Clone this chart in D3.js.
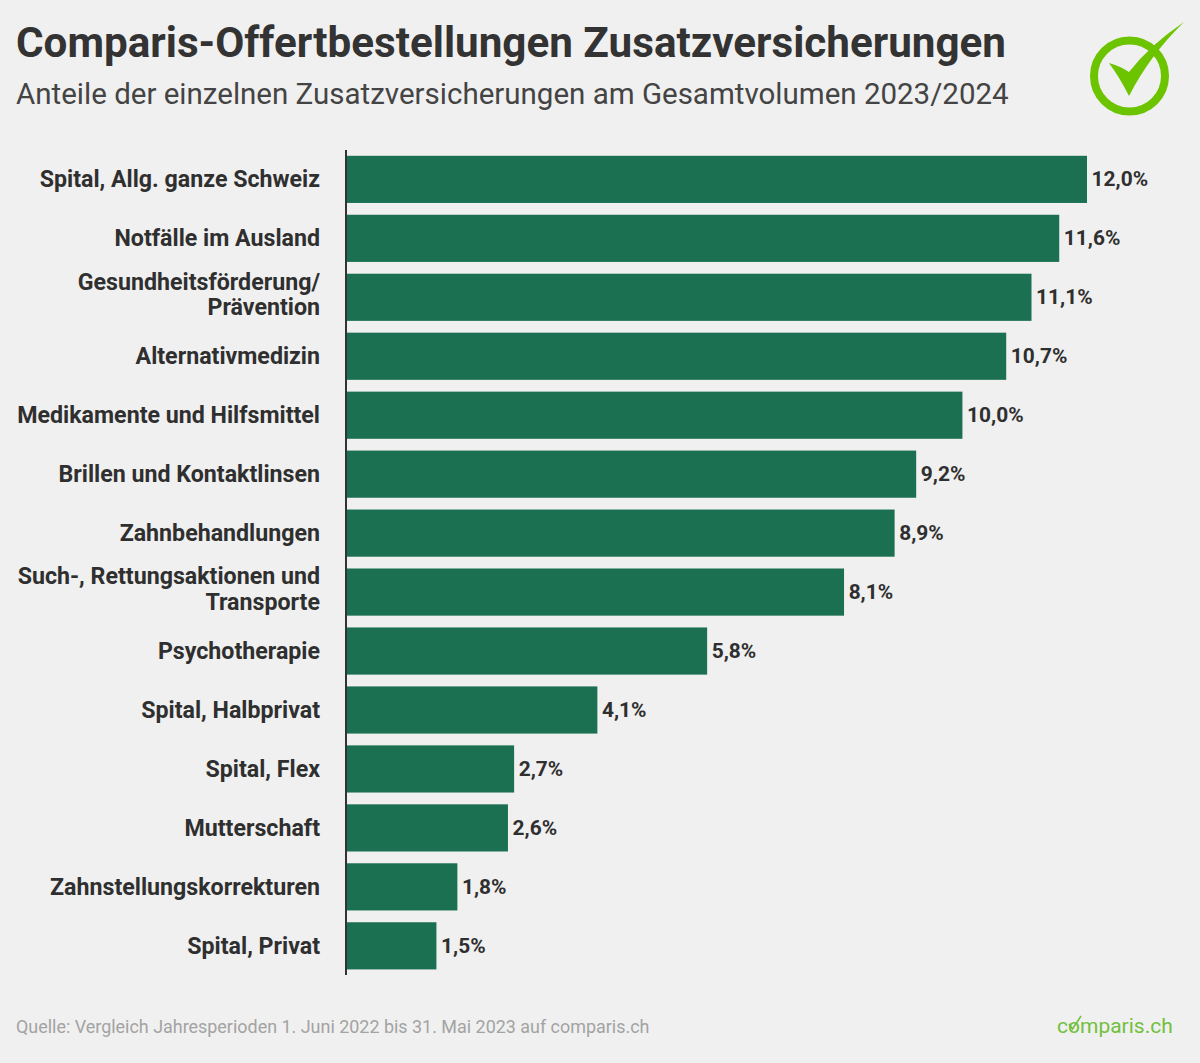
<!DOCTYPE html>
<html><head><meta charset="utf-8">
<script src="https://cdn.jsdelivr.net/npm/d3@7"></script>
<style>html,body{margin:0;padding:0;background:#f0f0f0}svg{display:block}text{font-family:Roboto,sans-serif}</style>
</head><body><svg id="c" width="1200" height="1063"></svg>
<script>
const categories=[["Spital, Allg. ganze Schweiz"],["Notfälle im Ausland"],["Gesundheitsförderung/","Prävention"],["Alternativmedizin"],["Medikamente und Hilfsmittel"],["Brillen und Kontaktlinsen"],["Zahnbehandlungen"],["Such-, Rettungsaktionen und","Transporte"],["Psychotherapie"],["Spital, Halbprivat"],["Spital, Flex"],["Mutterschaft"],["Zahnstellungskorrekturen"],["Spital, Privat"]];
const values=[12.0,11.55,11.1,10.69,9.98,9.23,8.88,8.06,5.84,4.06,2.71,2.61,1.79,1.45];
const valueLabels=["12,0%","11,6%","11,1%","10,7%","10,0%","9,2%","8,9%","8,1%","5,8%","4,1%","2,7%","2,6%","1,8%","1,5%"];
const title="Comparis-Offertbestellungen Zusatzversicherungen";
const subtitle="Anteile der einzelnen Zusatzversicherungen am Gesamtvolumen 2023/2024";
const source="Quelle: Vergleich Jahresperioden 1. Juni 2022 bis 31. Mai 2023 auf comparis.ch";
const svg=d3.select("#c");
svg.append("text").attr("x",16).attr("y",56.5).attr("font-size",42.2).attr("font-weight",700).attr("fill","#333").text(title);
svg.append("text").attr("x",16).attr("y",104).attr("font-size",29.5).attr("fill","#444").text(subtitle);
const x=d3.scaleLinear().domain([0,12]).range([347,1087]);
const y=d3.scaleBand().domain(d3.range(values.length)).range([149.9,975.3]).paddingInner(0.2).paddingOuter(0.1);
const ink="#2f2f2f";
svg.append("g").selectAll("rect").data(values).join("rect")
 .attr("x",x(0)).attr("y",(d,i)=>y(i)).attr("width",d=>x(d)-x(0)).attr("height",y.bandwidth()).attr("fill","#1b7052");
svg.append("line").attr("x1",346).attr("x2",346).attr("y1",150).attr("y2",975).attr("stroke","#333").attr("stroke-width",2);
svg.append("g").selectAll("text").data(valueLabels).join("text")
 .attr("x",(d,i)=>x(values[i])+4.6).attr("y",(d,i)=>y(i)+y.bandwidth()/2+7).attr("font-size",20.9).attr("font-weight",700).attr("fill",ink).text(d=>d);
categories.forEach((lines,i)=>{
 const cy=y(i)+y.bandwidth()/2;
 lines.forEach((l,k)=>{
  const yy=lines.length>1?cy+5+(k-0.5)*25.4:cy+8;
  svg.append("text").attr("x",320).attr("y",yy).attr("text-anchor","end").attr("font-size",23.2).attr("font-weight",700).attr("fill",ink).text(l);
 });
});
svg.append("text").attr("x",16).attr("y",1033).attr("font-size",17.93).attr("fill","#a3a3a3").text(source);
const g="#6cc400";
svg.append("circle").attr("cx",1129.5).attr("cy",76).attr("r",35.5).attr("fill","none").attr("stroke",g).attr("stroke-width",8);
svg.append("path").attr("d","M1109 63 Q1120 66 1129 72 Q1150 45 1184 22 Q1150 55 1129 96 Q1120 78 1109 63 Z").attr("fill",g);
svg.append("text").attr("x",1057).attr("y",1033).attr("font-size",21).attr("fill","#72c03c").text("comparis.ch");
svg.append("path").attr("d","M1069 1024 L1072.5 1029 L1081 1016").attr("fill","none").attr("stroke","#72c03c").attr("stroke-width",1.6);
</script></body></html>
